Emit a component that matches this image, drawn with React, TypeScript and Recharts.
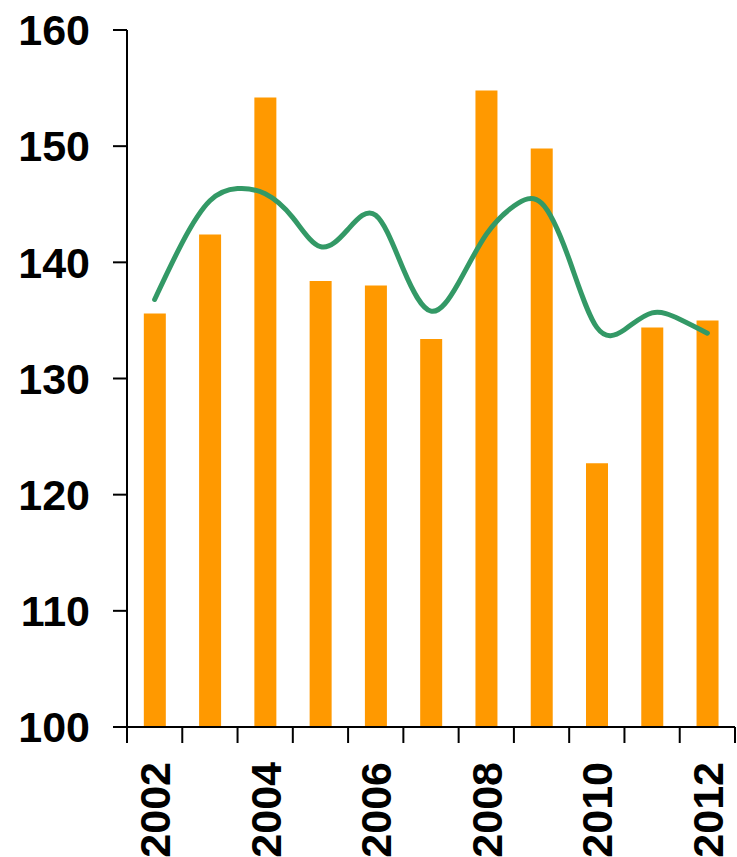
import React from "react";
import {
  ComposedChart,
  XAxis,
  YAxis,
  Bar,
  Line,
} from "recharts";

// yearly bars
const years = [2002, 2003, 2004, 2005, 2006, 2007, 2008, 2009, 2010, 2011, 2012];
const barValues = [135.6, 142.4, 154.2, 138.4, 138.0, 133.4, 154.8, 149.8, 122.7, 134.4, 135.0];

// smoothed trend, half-year steps
const trendYears = [
  2002, 2002.5, 2003, 2003.5, 2004, 2004.5, 2005, 2005.5, 2006, 2006.5, 2007,
  2007.5, 2008, 2008.5, 2009, 2009.5, 2010, 2010.5, 2011, 2011.5, 2012,
];
const trendValues = [
  136.8, 141.7, 145.3, 146.35, 145.9, 143.85, 141.35, 142.85, 144.05, 139.4, 135.8,
  138.25, 142.4, 144.85, 145.1, 140.25, 134.4, 134.2, 135.65, 135.1, 133.9,
];

const labelYears = [2002, 2004, 2006, 2008, 2010, 2012];
const boundaryTicks = [
  2001.5, 2002.5, 2003.5, 2004.5, 2005.5, 2006.5, 2007.5, 2008.5, 2009.5,
  2010.5, 2011.5, 2012.5,
];
const yTicks = [100, 110, 120, 130, 140, 150, 160];

const data = trendYears.map((year, i) => {
  const idx = years.indexOf(year);
  return {
    year,
    trend: trendValues[i],
    bar: idx >= 0 ? barValues[idx] : null,
  };
});

const xTicks = [...boundaryTicks, ...labelYears].sort((a, b) => a - b);

const FONT = "'Liberation Sans', Arial, sans-serif";

const YearTick = (props: any) => {
  const { x, y, payload } = props;
  const v = payload.value;
  if (v % 1 !== 0) {
    return <line x1={x} y1={y} x2={x} y2={y + 16} stroke="#000" strokeWidth={2} />;
  }
  return (
    <text
      transform={`translate(${x},${y + 35}) rotate(-90)`}
      textAnchor="end"
      dy="0.36em"
      fontFamily={FONT}
      fontWeight="bold"
      fontSize={43}
      fill="#000"
    >
      {v}
    </text>
  );
};

export default function App() {
  return (
    <div style={{ position: "absolute", left: 0, top: 0, background: "#fff" }}>
      <ComposedChart
        width={737}
        height={857}
        data={data}
        margin={{ top: 30, right: 2, bottom: 0, left: 0 }}
      >
        <XAxis
          dataKey="year"
          type="number"
          domain={[2001.5, 2012.5]}
          ticks={xTicks}
          interval={0}
          tick={<YearTick />}
          tickLine={false}
          tickSize={0}
          tickMargin={0}
          height={130}
          axisLine={{ stroke: "#000", strokeWidth: 2 }}
        />
        <YAxis
          type="number"
          domain={[100, 160]}
          ticks={yTicks}
          width={127}
          tickSize={14}
          tickMargin={23}
          axisLine={{ stroke: "#000", strokeWidth: 2 }}
          tickLine={{ stroke: "#000", strokeWidth: 2 }}
          tick={{
            fill: "#000",
            fontSize: 43,
            fontWeight: "bold",
            fontFamily: FONT,
          }}
        />
        <Bar dataKey="bar" fill="#FF9900" barSize={22} isAnimationActive={false} />
        <Line
          dataKey="trend"
          type="natural"
          stroke="#339966"
          strokeWidth={5}
          strokeLinecap="round"
          dot={false}
          activeDot={false}
          isAnimationActive={false}
        />
      </ComposedChart>
    </div>
  );
}
